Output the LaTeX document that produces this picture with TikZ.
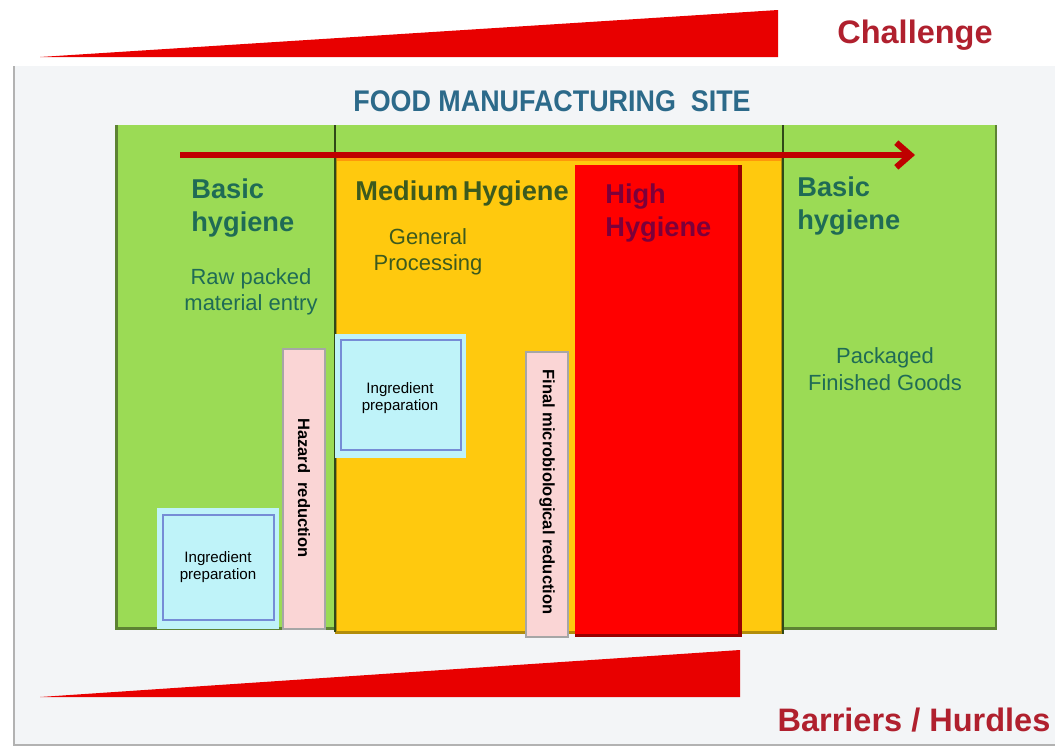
\documentclass[tikz,border=0pt]{standalone}
\usepackage{fontspec}
\setmainfont{Liberation Sans}
\usepackage{xcolor}
\usetikzlibrary{arrows.meta}

\definecolor{zonegreen}{HTML}{9BDB55}
\definecolor{zoneorange}{HTML}{FFC90E}
\definecolor{zonered}{HTML}{FF0000}
\definecolor{textteal}{HTML}{1F6B55}
\definecolor{textolive}{HTML}{3C5A1E}
\definecolor{titleblue}{HTML}{2C6A8A}
\definecolor{wedgered}{HTML}{E80000}
\definecolor{captionred}{HTML}{B0202E}
\definecolor{prepcyan}{HTML}{BFF3F9}
\definecolor{barpink}{HTML}{FAD5D5}
\definecolor{panelgrey}{HTML}{F3F5F7}

\tikzset{
  zonehead/.style={font=\bfseries\fontsize{15.5}{19}\selectfont, align=left, anchor=north west, inner sep=0pt},
  zonetext/.style={font=\fontsize{12.5}{15}\selectfont, text=textteal, align=center},
  caption/.style={font=\bfseries\fontsize{18.5}{21}\selectfont, text=captionred},
  prepbox/.style={fill=prepcyan, draw=prepcyan!60!blue!70!gray, line width=0.8pt},
  barbox/.style={fill=barpink, draw=gray!70, line width=0.8pt},
  smalltext/.style={font=\fontsize{8.6}{10}\selectfont, align=center},
  bartext/.style={font=\bfseries\fontsize{9.4}{11}\selectfont, rotate=-90},
}

\begin{document}
\begin{tikzpicture}[x=0.02cm,y=-0.02cm,line join=miter]
  \useasboundingbox (0,0) rectangle (1055,751);
  \fill[white] (0,0) rectangle (1055,751);

  % challenge wedge on top
  \fill[wedgered] (40,57) -- (778,10) -- (778,57) -- cycle;
  \node[caption] (challenge) at (915,35) {Challenge};

  % site panel
  \fill[panelgrey] (14,66) rectangle (1055,745);
  \draw[gray!60, line width=1.5pt] (14,66) -- (14,745) -- (1055,745);
  \node[font=\bfseries\fontsize{17}{19}\selectfont, text=titleblue] (site) at (552,101)
    {\scalebox{0.9}[1]{FOOD MANUFACTURING\ \ SITE}};

  % zones: basic / medium / high / basic
  \fill[zonegreen!60!black] (115,125) rectangle (997,630);
  \fill[zonegreen] (118,125) rectangle (995,627);
  \fill[zoneorange!70!black] (335,157) rectangle (783,634);
  \fill[zoneorange] (337,157) rectangle (781,631);
  \fill[zoneorange!75!red] (337,157) rectangle (781,161);
  \fill[zonered!60!black] (575,165) rectangle (742,637);
  \fill[zonered] (575,165) rectangle (738,634);
  \draw[textolive!80!black, line width=1.2pt] (335,125) -- (335,632);
  \draw[textolive!80!black, line width=1.2pt] (783,125) -- (783,634);

  % flow arrow
  \draw[red!75!black, line width=3.5pt, -{Straight Barb[length=8pt,width=14pt]}] (180,155) -- (915,155);

  % zone labels
  \node[zonehead, text=textteal] (basicleft) at (191,178) {Basic\\hygiene};
  \node[zonetext] (rawentry) at (251,292) {Raw packed\\material entry};
  \node[zonehead, text=textolive] (medium) at (355,180) {Medium\,Hygiene};
  \node[zonehead, text=red!45!blue!60!black, opacity=0.7] (high) at (605,183) {High\\Hygiene};
  \node[zonetext, text=textolive] (general) at (428,252) {General\\Processing};
  \node[zonehead, text=textteal] (basicright) at (797,176) {Basic\\hygiene};
  \node[zonetext] (packaged) at (885,369) {Packaged\\Finished Goods};

  % ingredient preparation boxes
  \fill[prepcyan] (157,508) rectangle (279,629);
  \draw[prepbox] (163,515) rectangle (274,620);
  \node[smalltext] (prepleft) at (218,567) {Ingredient\\preparation};
  \fill[prepcyan] (335,334) rectangle (466,458);
  \draw[prepbox] (341,340) rectangle (461,450);
  \node[smalltext] (prepmid) at (400,398) {Ingredient\\preparation};

  % hazard reduction barriers
  \draw[barbox] (283,349) rectangle (325,629);
  \node[bartext] (hazard) at (304,488) {Hazard\ \ reduction};
  \draw[barbox] (526,352) rectangle (568,637);
  \node[bartext] (final) at (547,492) {Final microbiological reduction};

  % barrier wedge at the bottom
  \fill[wedgered] (40,697) -- (740,650) -- (740,697) -- cycle;
  \node[caption] (barriers) at (914,720) {Barriers / Hurdles};
\end{tikzpicture}
\end{document}
